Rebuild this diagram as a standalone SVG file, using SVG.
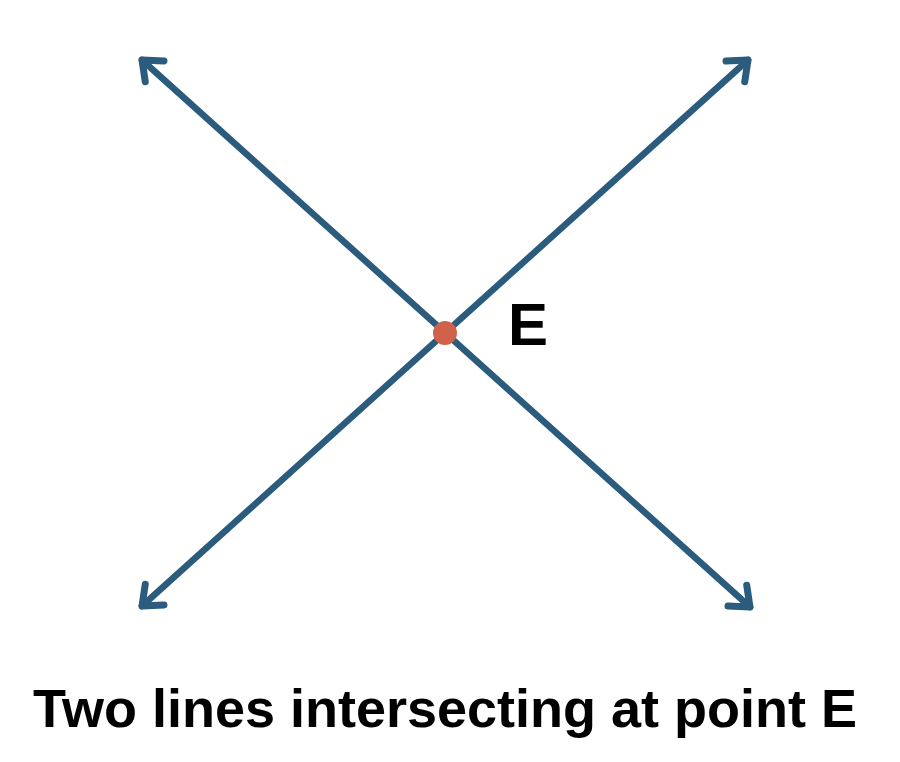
<svg xmlns="http://www.w3.org/2000/svg" width="900" height="762" viewBox="0 0 900 762">
<style>
.ln{stroke:#2b5b7d;stroke-width:6.5;fill:none;stroke-linecap:round;stroke-linejoin:round}
.lbl{font-family:"Liberation Sans",Arial,sans-serif;font-weight:bold;fill:#000}
</style>
<defs>
<marker id="ah" markerUnits="userSpaceOnUse" viewBox="-26 -22 32 44" refX="0" refY="0" markerWidth="32" markerHeight="44" orient="auto-start-reverse">
<path d="M -17 -14 L 0 0 L -17 14" stroke="#2b5b7d" stroke-width="7" fill="none" stroke-linecap="round" stroke-linejoin="round"/>
</marker>
</defs>
<rect width="900" height="762" fill="#fff"/>
<g id="connectors">
<line class="ln" x1="142" y1="60" x2="750" y2="607" marker-start="url(#ah)" marker-end="url(#ah)"/>
<line class="ln" x1="748" y1="60" x2="142" y2="606" marker-start="url(#ah)" marker-end="url(#ah)"/>
</g>
<g id="pointE">
<circle cx="445" cy="333" r="12" fill="#d0614b"/>
<text class="lbl" x="508" y="345" font-size="60">E</text>
</g>
<g id="caption">
<text class="lbl" x="445" y="727" font-size="54" text-anchor="middle">Two lines intersecting at point E</text>
</g>
</svg>
